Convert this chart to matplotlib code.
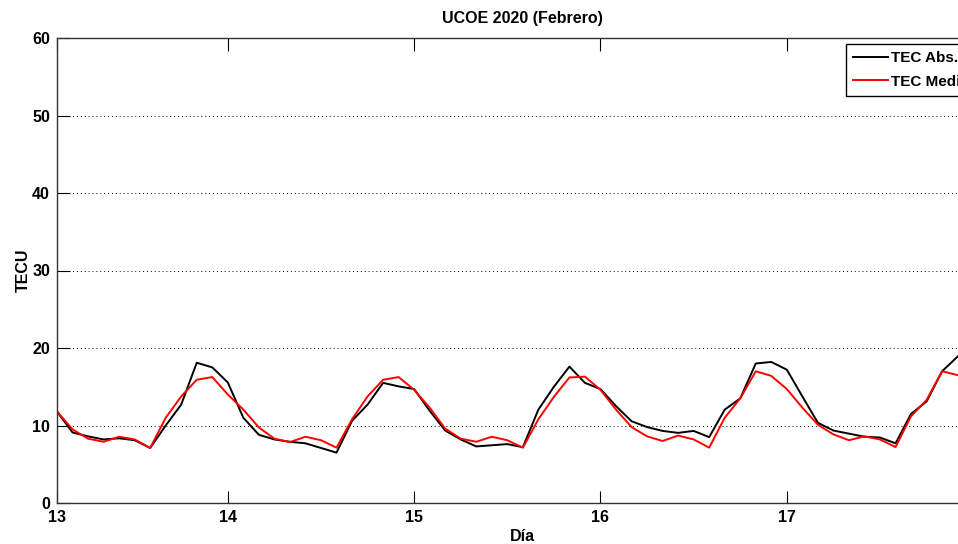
import numpy as np
import matplotlib
matplotlib.use("Agg")
import matplotlib.pyplot as plt

plt.rcParams['font.family'] = ['Liberation Sans', 'DejaVu Sans']

# --- data (2-hour samples starting 13 Feb 02:00) ---
start_day = 13 + 1/12
step = 1/12
tec_abs = [11.8, 9.1, 8.6, 8.2, 8.35, 8.1, 7.1, 10.0, 12.7, 18.1, 17.5, 15.55,
           11.0, 8.8, 8.2, 7.9, 7.7, 7.1, 6.5, 10.6, 12.7, 15.5, 15.05, 14.7,
           11.9, 9.35, 8.2, 7.3, 7.45, 7.6, 7.2, 12.05, 15.0, 17.6, 15.5, 14.7,
           12.5, 10.55, 9.8, 9.3, 9.05, 9.3, 8.5, 12.05, 13.5, 18.0, 18.2, 17.2,
           13.75, 10.35, 9.35, 8.95, 8.55, 8.45, 7.7, 11.5, 13.1, 17.0, 18.9]
tec_med = [11.8, 9.5, 8.3, 7.9, 8.55, 8.2, 7.1, 11.0, 13.75, 15.9, 16.25, 14.0,
           12.05, 9.75, 8.3, 7.86, 8.55, 8.1, 7.14, 10.8, 13.75, 15.9, 16.25, 14.6,
           12.3, 9.6, 8.3, 7.9, 8.55, 8.1, 7.14, 10.8, 13.7, 16.2, 16.3, 14.6,
           12.05, 9.8, 8.6, 8.0, 8.7, 8.2, 7.14, 11.0, 13.5, 17.0, 16.4, 14.7,
           12.3, 10.1, 8.85, 8.1, 8.6, 8.2, 7.22, 11.2, 13.3, 17.0, 16.5]
xtick_pos = [start_day, 14, 15, 16, 17]
xtick_labels = ['13', '14', '15', '16', '17']
ytick_vals = [0, 10, 20, 30, 40, 50, 60]
labels = ['TEC Abs.', 'TEC Media']

x = start_day + step * np.arange(len(tec_abs))

W, H = 958, 544
fig = plt.figure(figsize=(W/100, H/100), dpi=100)
ax = fig.add_axes([57/W, (H-503)/H, 931.7/W, 465/H])

ax.plot(x, tec_abs, color='black', lw=1.4, label=labels[0])
ax.plot(x, tec_med, color='red', lw=1.4, label=labels[1])

ax.set_xlim(start_day, start_day + 5)
ax.set_ylim(0, 60)
ax.set_xticks(xtick_pos)
ax.set_xticklabels(xtick_labels)
ax.set_yticks(ytick_vals)
ax.yaxis.grid(True, linestyle=(0, (1, 3)), color='black', lw=0.7)
ax.tick_params(direction='in', length=9, width=0.8, top=True, right=True,
               labelsize=11.5, pad=5)
for lab in ax.get_xticklabels() + ax.get_yticklabels():
    lab.set_fontweight('bold')
for sp in ax.spines.values():
    sp.set_color('#333333')
    sp.set_linewidth(1.0)

ax.set_title('UCOE 2020 (Febrero)', fontsize=11.5, fontweight='bold', pad=11)
ax.set_xlabel('Día', fontsize=11.5, fontweight='bold', labelpad=3)
ax.set_ylabel('TECU', fontsize=11.5, fontweight='bold', labelpad=1)

leg = fig.legend(loc='upper left', bbox_to_anchor=(846/W, 1 - 44/H),
                 bbox_transform=fig.transFigure,
                 prop={'weight': 'bold', 'size': 11},
                 handlelength=2.3, handletextpad=0.2, borderpad=0.45,
                 labelspacing=0.65, fancybox=False, framealpha=1,
                 edgecolor='black', borderaxespad=0)
leg.get_frame().set_linewidth(1.0)

fig.savefig('out.png', dpi=100)
